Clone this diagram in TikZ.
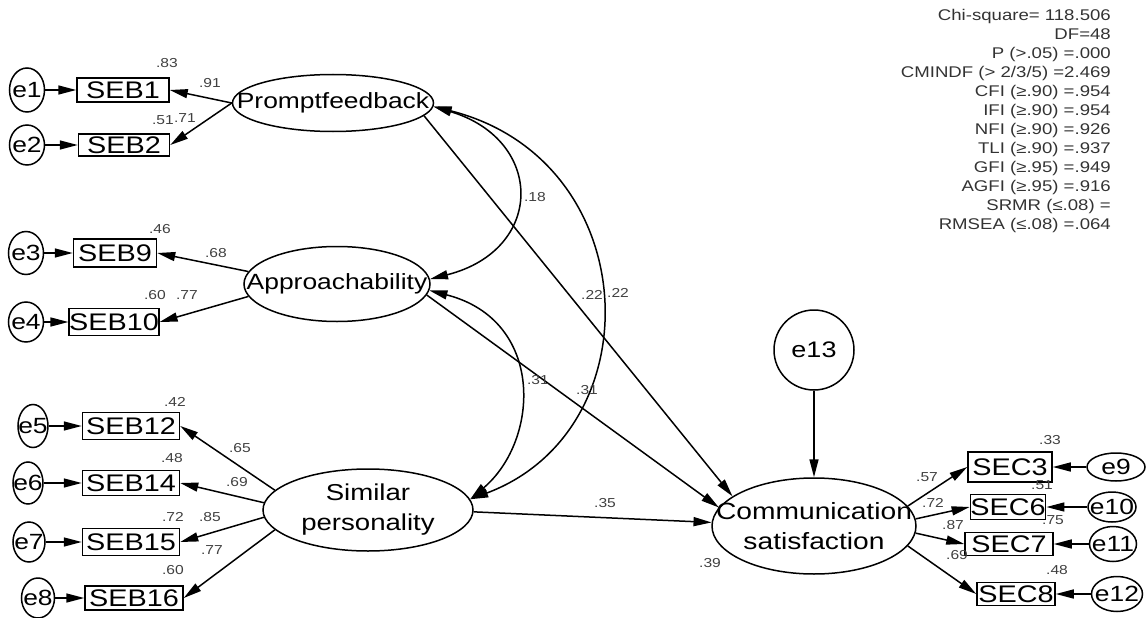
\documentclass[tikz,border=0pt]{standalone}
\usepackage{fontspec}
\setmainfont[FakeStretch=1.2]{Liberation Sans}
\usetikzlibrary{shapes.geometric,arrows.meta}
\begin{document}
\begin{tikzpicture}[x=1pt,y=-1pt,
  ell/.style={ellipse, draw, line width=1.5pt, inner sep=0pt},
  latf/.style={font=\fontsize{22}{27}\selectfont, align=center, inner sep=0pt},
  errf/.style={font=\fontsize{22}{26}\selectfont, inner sep=0pt},
  obs/.style={rectangle, draw, line width=1.5pt, inner sep=0pt, font=\fontsize{24}{26}\selectfont},
  lbl/.style={font=\fontsize{13}{13}\selectfont, text=black!75, inner sep=0pt},
  arr/.style={line width=1.5pt, -{Triangle[length=18pt,width=9pt]}},
  cov/.style={line width=1.5pt, {Triangle[length=18pt,width=9pt]}-{Triangle[length=18pt,width=9pt]}},
]
\useasboundingbox (0,0) rectangle (1146,618);

% latent variables
\node[ell, minimum width=201pt, minimum height=57pt, label={[latf]center:Promptfeedback}] (pf) at (333,103) {};
\node[ell, minimum width=186pt, minimum height=75pt, label={[latf]center:Approachability}] (ap) at (337,284) {};
\node[ell, minimum width=210pt, minimum height=82pt, label={[latf, font=\fontsize{23}{30}\selectfont]center:Similar\\personality}] (sp) at (368,510) {};
\node[ell, minimum width=204pt, minimum height=96pt, label={[latf, font=\fontsize{23.5}{30}\selectfont]center:Communication\\satisfaction}] (cs) at (814,526) {};
\node[circle, draw, line width=1.5pt, minimum size=80pt, inner sep=0pt, font=\fontsize{22.5}{26}\selectfont] (e13) at (814,350) {e13};

% observed variables, left
\node[obs, minimum width=92pt, minimum height=24pt] (seb1) at (123,90) {SEB1};
\node[obs, minimum width=91pt, minimum height=22pt] (seb2) at (124,145) {SEB2};
\node[obs, minimum width=83pt, minimum height=28pt] (seb9) at (115,253) {SEB9};
\node[obs, minimum width=84pt, minimum height=27pt] (seb10) at (114,322) {SEB10};
\node[obs, minimum width=97pt, minimum height=27pt] (seb12) at (131,426) {SEB12};
\node[obs, minimum width=97pt, minimum height=25pt] (seb14) at (131,483) {SEB14};
\node[obs, minimum width=97pt, minimum height=27pt] (seb15) at (131,542) {SEB15};
\node[obs, minimum width=98pt, minimum height=24pt] (seb16) at (134,598) {SEB16};

% errors, left
\node[ell, minimum width=35pt, minimum height=44pt, label={[errf]center:e1}] (e1) at (27,90) {};
\node[ell, minimum width=35pt, minimum height=40pt, label={[errf]center:e2}] (e2) at (27,145) {};
\node[ell, minimum width=35pt, minimum height=43pt, label={[errf]center:e3}] (e3) at (26,253) {};
\node[ell, minimum width=35pt, minimum height=40pt, label={[errf]center:e4}] (e4) at (26,322) {};
\node[ell, minimum width=30pt, minimum height=43pt, label={[errf]center:e5}] (e5) at (33,426) {};
\node[ell, minimum width=30pt, minimum height=42pt, label={[errf]center:e6}] (e6) at (28,483) {};
\node[ell, minimum width=32pt, minimum height=40pt, label={[errf]center:e7}] (e7) at (29,542) {};
\node[ell, minimum width=33pt, minimum height=40pt, label={[errf]center:e8}] (e8) at (38,598) {};

% observed variables, right
\node[obs, minimum width=84pt, minimum height=30pt] (sec3) at (1010,467) {SEC3};
\node[obs, minimum width=72pt, minimum height=25pt] (sec6) at (1008,507) {SEC6};
\node[obs, minimum width=88pt, minimum height=23pt] (sec7) at (1009,544) {SEC7};
\node[obs, minimum width=78pt, minimum height=23pt] (sec8) at (1016,594) {SEC8};

% errors, right
\node[ell, minimum width=58pt, minimum height=28pt, label={[errf]center:e9}] (e9) at (1116,467) {};
\node[ell, minimum width=48pt, minimum height=30pt, label={[errf]center:e10}] (e10) at (1112,507) {};
\node[ell, minimum width=47pt, minimum height=35pt, label={[errf]center:e11}] (e11) at (1113,544) {};
\node[ell, minimum width=51pt, minimum height=35pt, label={[errf]center:e12}] (e12) at (1117,594) {};

% error arrows
\draw[arr] (e1) -- (seb1);
\draw[arr] (e2) -- (seb2);
\draw[arr] (e3) -- (seb9);
\draw[arr] (e4) -- (seb10);
\draw[arr] (e5) -- (seb12);
\draw[arr] (e6) -- (seb14);
\draw[arr] (e7) -- (seb15);
\draw[arr] (e8) -- (seb16);
\draw[arr] (e9) -- (sec3);
\draw[arr] (e10) -- (sec6);
\draw[arr] (e11) -- (sec7);
\draw[arr] (e12) -- (sec8);
\draw[arr] (e13) -- (cs);

% loadings
\draw[arr] (pf.west) -- (seb1.east);
\draw[arr] (pf.west) -- (seb2.east);
\draw[arr] (ap.172) -- (seb9.east);
\draw[arr] (ap.188) -- (seb10.east);
\draw[arr] (sp.168) -- (seb12.east);
\draw[arr] (sp.176) -- (seb14.east);
\draw[arr] (sp.184) -- (seb15.east);
\draw[arr] (sp.192) -- (seb16.east);
\draw[arr] (cs.12) -- (sec3.west);
\draw[arr] (cs.4) -- (sec6.west);
\draw[arr] (cs.-4) -- (sec7.west);
\draw[arr] (cs.-12) -- (sec8.west);

% structural paths
\draw[arr] (pf.-8) -- (cs.160);
\draw[arr] (ap.-7) -- (cs.169);
\draw[arr] (sp.-1) -- (cs.178);

% covariances
\draw[cov] (pf.-2) .. controls (545,140) and (545,250) .. (ap.3);
\draw[cov] (pf.-2) .. controls (645,160) and (655,430) .. (sp.6);
\draw[cov] (ap.-4) .. controls (545,320) and (540,440) .. (sp.6);

% coefficient labels
\node[lbl] (l1) at (167,63) {.83};
\node[lbl] (l2) at (210,83) {.91};
\node[lbl] (l3) at (163,120) {.51};
\node[lbl] (l4) at (185,118) {.71};
\node[lbl] (l5) at (160,229) {.46};
\node[lbl] (l6) at (216,253) {.68};
\node[lbl] (l7) at (155,295) {.60};
\node[lbl] (l8) at (187,295) {.77};
\node[lbl] (l9) at (175,402) {.42};
\node[lbl] (l10) at (240,448) {.65};
\node[lbl] (l11) at (172,458) {.48};
\node[lbl] (l12) at (237,482) {.69};
\node[lbl] (l13) at (173,517) {.72};
\node[lbl] (l14) at (210,517) {.85};
\node[lbl] (l15) at (212,550) {.77};
\node[lbl] (l16) at (173,570) {.60};
\node[lbl] (l17) at (535,197) {.18};
\node[lbl] (l18) at (592,295) {.22};
\node[lbl] (l19) at (618,293) {.22};
\node[lbl] (l20) at (538,380) {.31};
\node[lbl] (l21) at (587,390) {.31};
\node[lbl] (l22) at (605,503) {.35};
\node[lbl] (l23) at (710,563) {.39};
\node[lbl] (l24) at (927,477) {.57};
\node[lbl] (l25) at (933,503) {.72};
\node[lbl] (l26) at (953,525) {.87};
\node[lbl] (l27) at (957,555) {.69};
\node[lbl] (l28) at (1050,440) {.33};
\node[lbl] (l29) at (1042,485) {.51};
\node[lbl] (l30) at (1053,520) {.75};
\node[lbl] (l31) at (1057,570) {.48};

% fit statistics
\node[anchor=north east, align=right, inner sep=0pt, text=black!80, font=\fontsize{15.5}{19}\selectfont] (fit) at (1111,9) {Chi-square= 118.506\\DF=48\\P (>.05) =.000\\CMINDF (> 2/3/5) =2.469\\CFI (≥.90) =.954\\IFI (≥.90) =.954\\NFI (≥.90) =.926\\TLI (≥.90) =.937\\GFI (≥.95) =.949\\AGFI (≥.95) =.916\\SRMR (≤.08) =\\RMSEA (≤.08) =.064};
\end{tikzpicture}
\end{document}
